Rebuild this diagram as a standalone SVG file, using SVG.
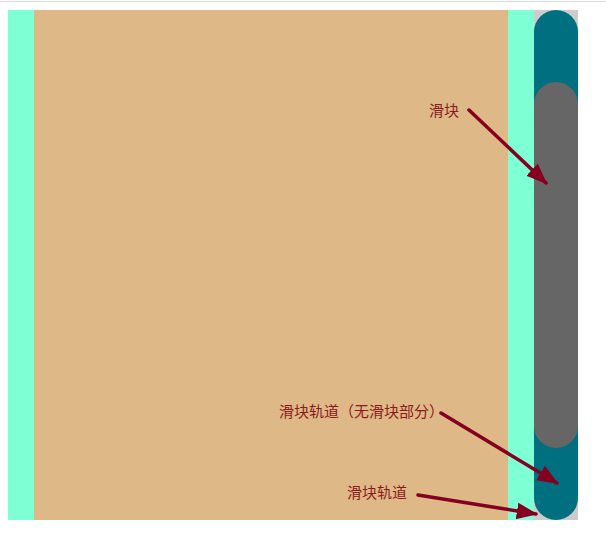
<svg xmlns="http://www.w3.org/2000/svg" width="606" height="536" viewBox="0 0 606 536">
<style>
.lbl{font-family:"Noto Sans CJK SC","Noto Sans",sans-serif;font-size:15px;fill:#8b1a1a}
.arr{stroke:#850020;stroke-width:3.5;fill:none;stroke-linecap:round}
</style>
<defs>
<marker id="ah" markerWidth="7" markerHeight="6" refX="5.5" refY="3" orient="auto" markerUnits="strokeWidth">
<path d="M0,0.6 L6,3 L0,5.4 Z" fill="#850020"/>
</marker>
</defs>
<rect width="606" height="536" fill="#fff"/>
<line x1="0" y1="1.5" x2="606" y2="1.5" stroke="#ddd" stroke-width="1"/>
<g id="left-pad"><rect x="8" y="10" width="26" height="510" fill="#7fffd4"/></g>
<g id="content"><rect x="34" y="10" width="474" height="510" fill="#deb887"/></g>
<g id="right-pad"><rect x="508" y="10" width="26" height="510" fill="#7fffd4"/></g>
<g id="track-bg"><rect x="534" y="10" width="44" height="510" fill="#ccc"/></g>
<g id="track"><rect x="534" y="10" width="44" height="510" rx="22" ry="22" fill="#007080"/></g>
<g id="thumb"><rect x="534" y="82" width="44" height="366" rx="22" ry="22" fill="#666"/></g>
<g id="labels">
<text class="lbl" x="429" y="116">滑块</text>
<text class="lbl" x="279" y="417">滑块轨道（无滑块部分）</text>
<text class="lbl" x="347" y="498">滑块轨道</text>
</g>
<g id="connectors">
<line class="arr" x1="469" y1="110" x2="546" y2="183" marker-end="url(#ah)"/>
<line class="arr" x1="441" y1="413" x2="557" y2="483" marker-end="url(#ah)"/>
<line class="arr" x1="418" y1="495" x2="536" y2="514" marker-end="url(#ah)"/>
</g>
</svg>
